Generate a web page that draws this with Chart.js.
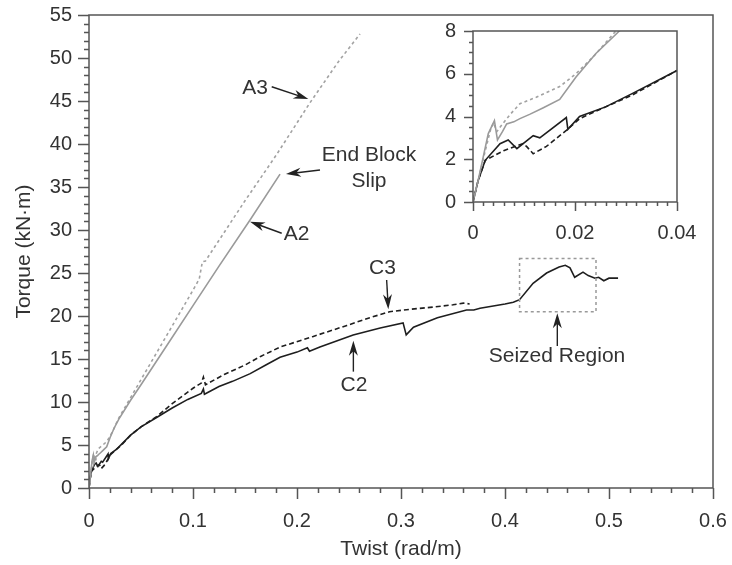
<!DOCTYPE html>
<html>
<head>
<meta charset="utf-8">
<script src="https://cdn.jsdelivr.net/npm/chart.js@4.4.0/dist/chart.umd.min.js"></script>
<style>
  html, body { margin: 0; padding: 0; background: #fff; }
  #wrap { position: relative; width: 732px; height: 565px; }
  #main { position: absolute; left: 0; top: 0; }
  #inset { position: absolute; left: 425px; top: 17px; }
</style>
</head>
<body>
<div id="wrap">
  <canvas id="main" width="732" height="565"></canvas>
  <canvas id="inset" width="295" height="235"></canvas>
</div>
<script>
// specimen A2 (gray solid) - ends at end block slip
const a2Twist = [0, 0.001, 0.002, 0.003, 0.0042, 0.0048, 0.0058, 0.0066, 0.008, 0.0092, 0.0111, 0.0137, 0.017, 0.0202, 0.0241, 0.0287, 0.04, 0.05, 0.075, 0.1, 0.125, 0.155, 0.1837];
const a2Torque = [0, 1.0, 2.1, 3.2, 3.8, 2.9, 3.3, 3.65, 3.75, 3.9, 4.1, 4.4, 4.8, 5.85, 6.95, 8.0, 10.2, 12.0, 16.6, 21.2, 25.8, 31.2, 36.5];

// specimen A3 (gray dashed)
const a3Twist = [0, 0.001, 0.0021, 0.0034, 0.004, 0.0047, 0.0053, 0.0073, 0.0092, 0.0124, 0.017, 0.0202, 0.024, 0.028, 0.05, 0.075, 0.1, 0.106, 0.109, 0.112, 0.119, 0.15, 0.18, 0.2125, 0.24, 0.2606];
const a3Torque = [0, 1.0, 2.1, 3.35, 3.7, 3.3, 3.5, 4.1, 4.6, 4.9, 5.4, 6.0, 6.9, 8.0, 12.6, 17.8, 23.0, 24.3, 26.3, 26.4, 27.7, 33.4, 38.7, 44.8, 49.6, 52.8];

// specimen C2 (black solid)
const c2Twist = [0, 0.001, 0.0024, 0.0053, 0.0069, 0.0086, 0.0118, 0.0131, 0.0183, 0.0186, 0.0209, 0.026, 0.0312, 0.04, 0.05, 0.065, 0.08, 0.095, 0.108, 0.11, 0.111, 0.125, 0.138, 0.155, 0.17, 0.1837, 0.2, 0.21, 0.212, 0.222, 0.254, 0.28, 0.302, 0.305, 0.312, 0.335, 0.363, 0.37, 0.376, 0.4, 0.408, 0.414, 0.427, 0.44, 0.452, 0.458, 0.4625, 0.467, 0.475, 0.48, 0.4865, 0.49, 0.495, 0.5, 0.5087];
const c2Torque = [0, 1.0, 1.95, 2.73, 2.9, 2.5, 3.1, 3.0, 3.95, 3.4, 4.0, 4.45, 5.07, 6.15, 7.1, 8.2, 9.3, 10.3, 11.0, 11.5, 10.9, 11.8, 12.4, 13.3, 14.3, 15.2, 15.8, 16.3, 15.9, 16.4, 17.8, 18.6, 19.2, 17.8, 18.7, 19.8, 20.7, 20.7, 20.9, 21.4, 21.6, 21.9, 23.8, 25.0, 25.7, 25.9, 25.6, 24.5, 25.1, 24.7, 24.4, 24.5, 24.1, 24.4, 24.4];

// specimen C3 (black dashed)
const c3Twist = [0, 0.001, 0.0024, 0.006, 0.0098, 0.0105, 0.0118, 0.0144, 0.0183, 0.0209, 0.026, 0.0312, 0.04, 0.05, 0.065, 0.08, 0.1, 0.108, 0.11, 0.112, 0.13, 0.15, 0.165, 0.184, 0.215, 0.248, 0.27, 0.289, 0.31, 0.328, 0.35, 0.36, 0.366];
const c3Torque = [0, 1.0, 1.95, 2.4, 2.73, 2.6, 2.26, 2.6, 3.35, 3.9, 4.45, 5.0, 6.15, 7.1, 8.3, 9.8, 11.6, 12.2, 12.9, 12.0, 13.2, 14.3, 15.3, 16.4, 17.6, 18.9, 19.8, 20.5, 20.8, 21.0, 21.3, 21.5, 21.4];

// annotations (data coordinates)
const noteText = [
  ['A3', 0.1596, 46.5],
  ['End Block', 0.2692, 38.7],
  ['Slip', 0.2692, 35.7],
  ['A2', 0.1995, 29.5],
  ['C3', 0.2822, 25.6],
  ['C2', 0.2548, 11.9],
  ['Seized Region', 0.45, 15.35]
];
const noteArrows = [
  [0.1757, 46.66, 0.2109, 45.23],
  [0.2221, 36.98, 0.1894, 36.51],
  [0.1853, 29.62, 0.1548, 30.97],
  [0.2862, 24.19, 0.2878, 20.78],
  [0.2542, 13.53, 0.2542, 17.13],
  [0.4503, 16.51, 0.4503, 20.31]
];
const seizedBox = [0.414, 0.4875, 20.5, 26.7];

const FONT = "'Liberation Sans', Arial, sans-serif";
const TXT = '#333';
Chart.defaults.font.family = FONT;
Chart.defaults.color = TXT;

function pts(xs, ys) {
  return xs.map((x, i) => ({ x: x, y: ys[i] }));
}

function makeDatasets() {
  return [
    { label: 'A2', data: pts(a2Twist, a2Torque), borderColor: '#9a9a9a', borderWidth: 1.6 },
    { label: 'A3', data: pts(a3Twist, a3Torque), borderColor: '#a2a2a2', borderWidth: 1.6, borderDash: [3, 3] },
    { label: 'C2', data: pts(c2Twist, c2Torque), borderColor: '#1e1e1e', borderWidth: 1.6 },
    { label: 'C3', data: pts(c3Twist, c3Torque), borderColor: '#1e1e1e', borderWidth: 1.6, borderDash: [5, 3] }
  ].map(d => Object.assign({ showLine: true, pointRadius: 0, tension: 0, fill: false }, d));
}

// fixed axis box sizes, no extra label overflow padding
function fixX(h) {
  return s => { s.height = h; s.paddingLeft = 0; s.paddingRight = 0; };
}
function fixY(w) {
  return s => { s.width = w; s.paddingTop = 0; s.paddingBottom = 0; };
}

// axes box plus major / minor tick marks
const frameTicks = {
  id: 'frameTicks',
  afterDraw(chart, args, opts) {
    const { ctx, chartArea: a, scales: { x, y } } = chart;
    ctx.save();
    ctx.strokeStyle = '#555';
    ctx.lineWidth = 1.5;
    ctx.strokeRect(a.left, a.top, a.right - a.left, a.bottom - a.top);
    ctx.beginPath();
    const nx = Math.round((x.max - x.min) / opts.xMinor);
    for (let i = 0; i <= nx; i++) {
      const v = x.min + i * opts.xMinor;
      const r = v / opts.xMajor;
      const len = Math.abs(r - Math.round(r)) < 1e-6 ? opts.major : opts.minor;
      const px = Math.round(x.getPixelForValue(v)) + 0.5;
      ctx.moveTo(px, a.bottom);
      ctx.lineTo(px, a.bottom + len);
    }
    const ny = Math.round((y.max - y.min) / opts.yMinor);
    for (let i = 0; i <= ny; i++) {
      const v = y.min + i * opts.yMinor;
      const r = v / opts.yMajor;
      const len = Math.abs(r - Math.round(r)) < 1e-6 ? opts.major : opts.minor;
      const py = Math.round(y.getPixelForValue(v)) + 0.5;
      ctx.moveTo(a.left, py);
      ctx.lineTo(a.left - len, py);
    }
    ctx.stroke();
    ctx.restore();
  }
};

function drawArrow(ctx, x1, y1, x2, y2) {
  const ang = Math.atan2(y2 - y1, x2 - x1);
  const c = Math.cos(ang), s = Math.sin(ang);
  const L = 15, W = 4.5;
  ctx.beginPath();
  ctx.moveTo(x1, y1);
  ctx.lineTo(x2 - c * L * 0.6, y2 - s * L * 0.6);
  ctx.stroke();
  ctx.beginPath();
  ctx.moveTo(x2, y2);
  ctx.lineTo(x2 - c * L - s * W, y2 - s * L + c * W);
  ctx.lineTo(x2 - c * L * 0.7, y2 - s * L * 0.7);
  ctx.lineTo(x2 - c * L + s * W, y2 - s * L - c * W);
  ctx.closePath();
  ctx.fill();
}

const notes = {
  id: 'notes',
  afterDraw(chart) {
    const { ctx, scales: { x, y } } = chart;
    ctx.save();
    // seized region box
    ctx.strokeStyle = '#999';
    ctx.lineWidth = 1.5;
    ctx.setLineDash([3, 3]);
    const bx1 = x.getPixelForValue(seizedBox[0]), bx2 = x.getPixelForValue(seizedBox[1]);
    const by1 = y.getPixelForValue(seizedBox[3]), by2 = y.getPixelForValue(seizedBox[2]);
    ctx.strokeRect(bx1, by1, bx2 - bx1, by2 - by1);
    ctx.setLineDash([]);
    ctx.fillStyle = TXT;
    ctx.font = '21px ' + FONT;
    ctx.textAlign = 'center';
    ctx.textBaseline = 'middle';
    noteText.forEach(([t, vx, vy]) => {
      ctx.fillText(t, x.getPixelForValue(vx), y.getPixelForValue(vy));
    });
    ctx.strokeStyle = '#222';
    ctx.fillStyle = '#222';
    ctx.lineWidth = 1.4;
    noteArrows.forEach(([ax, ay, bx, by]) => {
      drawArrow(ctx, x.getPixelForValue(ax), y.getPixelForValue(ay), x.getPixelForValue(bx), y.getPixelForValue(by));
    });
    ctx.restore();
  }
};

const fmt = v => String(+Number(v).toFixed(3));

new Chart(document.getElementById('main').getContext('2d'), {
  type: 'scatter',
  data: { datasets: makeDatasets() },
  plugins: [frameTicks, notes],
  options: {
    responsive: false,
    animation: false,
    layout: { padding: { top: 15, right: 19, left: 0, bottom: 0 } },
    plugins: {
      legend: { display: false },
      tooltip: { enabled: false },
      frameTicks: { xMinor: 0.02, xMajor: 0.1, yMinor: 1, yMajor: 5, major: 11, minor: 5 }
    },
    scales: {
      x: {
        type: 'linear', min: 0, max: 0.6,
        grid: { display: false, drawTicks: false },
        border: { display: false },
        ticks: { stepSize: 0.1, padding: 21, maxRotation: 0, font: { size: 20 }, callback: fmt },
        title: { display: true, text: 'Twist (rad/m)', font: { size: 21 }, padding: { top: 0, bottom: 3 } },
        afterFit: fixX(77)
      },
      y: {
        type: 'linear', min: 0, max: 55,
        grid: { display: false, drawTicks: false },
        border: { display: false },
        ticks: { stepSize: 5, padding: 17, font: { size: 20 }, callback: fmt },
        title: { display: true, text: 'Torque (kN·m)', font: { size: 21 }, padding: { top: 12, bottom: 0 } },
        afterFit: fixY(89)
      }
    }
  }
});

new Chart(document.getElementById('inset').getContext('2d'), {
  type: 'scatter',
  data: { datasets: makeDatasets() },
  plugins: [frameTicks],
  options: {
    responsive: false,
    animation: false,
    layout: { padding: { top: 14, right: 43, left: 0, bottom: 0 } },
    plugins: {
      legend: { display: false },
      tooltip: { enabled: false },
      frameTicks: { xMinor: 0.002, xMajor: 0.02, yMinor: 0.5, yMajor: 2, major: 9, minor: 4 }
    },
    scales: {
      x: {
        type: 'linear', min: 0, max: 0.04,
        grid: { display: false, drawTicks: false },
        border: { display: false },
        ticks: { stepSize: 0.02, padding: 19, maxRotation: 0, font: { size: 20 }, callback: fmt },
        afterFit: fixX(50)
      },
      y: {
        type: 'linear', min: 0, max: 8,
        grid: { display: false, drawTicks: false },
        border: { display: false },
        ticks: { stepSize: 2, padding: 17, font: { size: 20 }, callback: fmt },
        afterFit: fixY(48)
      }
    }
  }
});
</script>
</body>
</html>
